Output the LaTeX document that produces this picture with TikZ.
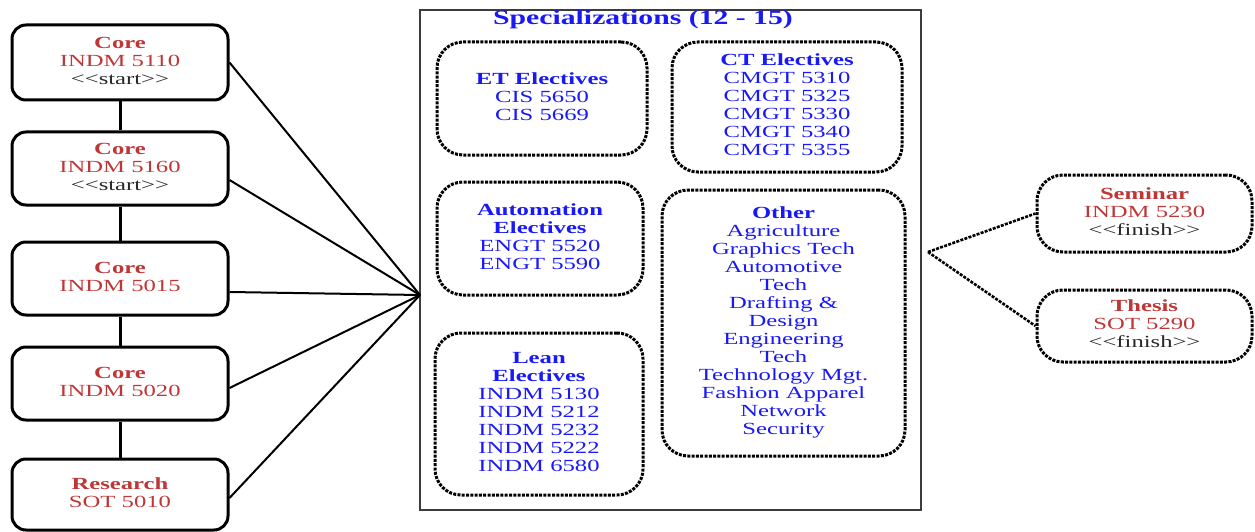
\documentclass[tikz,border=0pt]{standalone}
\usepackage{fontspec}
\setmainfont{Liberation Serif}
\usepackage{graphicx}
\definecolor{cred}{RGB}{190,55,55}
\definecolor{cblue}{RGB}{25,25,245}
\definecolor{cgray}{RGB}{40,40,40}
\definecolor{cframe}{RGB}{60,60,60}
\newcommand{\sx}[1]{\scalebox{1.45}[1]{#1}}
\newcommand{\tb}[1]{\sx{\begin{tabular}{@{}c@{}}#1\end{tabular}}}
\newcommand{\st}{\textcolor{cgray}{<{}<start>{}>}}
\newcommand{\fin}{\textcolor{cgray}{<{}<finish>{}>}}
\begin{document}
\begin{tikzpicture}[x=1pt,y=-1pt,
  every node/.style={font=\fontsize{17}{18}\selectfont, inner sep=0pt},
  corebox/.style={draw, line width=3pt, rounded corners=14pt, minimum width=216pt, text=cred},
  dotbox/.style={draw, line width=3pt, dash pattern=on 3pt off 1.3pt, rounded corners=26pt},
  elecbox/.style={dotbox, text=cblue},
  finbox/.style={dotbox, text=cred, minimum width=215pt},
  link/.style={line width=3pt},
  fanline/.style={line width=2pt},
  dotline/.style={line width=2.6pt, dash pattern=on 3pt off 1.3pt}]
\useasboundingbox (0,0) rectangle (1255,532);

% central frame
\node[draw=cframe, line width=1.6pt, minimum width=501pt, minimum height=500pt] (spec) at (670.5,260) {};
\node[text=cblue, font=\fontsize{20.5}{21}\selectfont\bfseries] (title) at (643,20) {\sx{Specializations (12 - 15)}};

% left core boxes
\node[corebox, minimum height=75pt] (c1) at (120,62.5) {\tb{\textbf{Core}\\INDM 5110\\\st}};
\node[corebox, minimum height=73pt] (c2) at (120,168.5) {\tb{\textbf{Core}\\INDM 5160\\\st}};
\node[corebox, minimum height=73pt] (c3) at (120,278.5) {\tb{\textbf{Core}\\INDM 5015}};
\node[corebox, minimum height=73pt] (c4) at (120,383.5) {\tb{\textbf{Core}\\INDM 5020}};
\node[corebox, minimum height=71pt] (c5) at (120,494.5) {\tb{\textbf{Research}\\SOT 5010}};

\draw[link] (c1.south) -- (c2.north);
\draw[link] (c2.south) -- (c3.north);
\draw[link] (c3.south) -- (c4.north);
\draw[link] (c4.south) -- (c5.north);

% fan into specializations
\coordinate (fan) at (420,295);
\draw[fanline] (c1.east) -- (fan);
\draw[fanline] ([yshift=-11.5pt]c2.east) -- (fan);
\draw[fanline] ([yshift=-13.5pt]c3.east) -- (fan);
\draw[fanline] ([yshift=-4.5pt]c4.east) -- (fan);
\draw[fanline] ([yshift=-3.5pt]c5.east) -- (fan);

% elective boxes
\node[elecbox, minimum width=210pt, minimum height=113pt] (et) at (542,98.5)
  {\tb{\textbf{ET Electives}\\CIS 5650\\CIS 5669}};
\node[elecbox, minimum width=230pt, minimum height=130pt] (ct) at (787,107)
  {\tb{\textbf{CT Electives}\\CMGT 5310\\CMGT 5325\\CMGT 5330\\CMGT 5340\\CMGT 5355}};
\node[elecbox, minimum width=206pt, minimum height=113pt] (auto) at (540,238.5)
  {\tb{\textbf{Automation}\\\textbf{Electives}\\ENGT 5520\\ENGT 5590}};
\node[elecbox, minimum width=208pt, minimum height=162pt] (lean) at (539,414)
  {\tb{\textbf{Lean}\\\textbf{Electives}\\INDM 5130\\INDM 5212\\INDM 5232\\INDM 5222\\INDM 6580}};
\node[elecbox, minimum width=243pt, minimum height=266pt] (other) at (783.5,323)
  {\tb{\textbf{Other}\\Agriculture\\Graphics Tech\\Automotive\\Tech\\Drafting \&\\Design\\Engineering\\Tech\\Technology Mgt.\\Fashion Apparel\\Network\\Security}};

% finish boxes
\node[finbox, minimum height=77pt] (sem) at (1144.5,213.5) {\tb{\textbf{Seminar}\\INDM 5230\\\fin}};
\node[finbox, minimum height=72pt] (thesis) at (1144.5,326) {\tb{\textbf{Thesis}\\SOT 5290\\\fin}};

\coordinate (fan2) at (928,252);
\draw[dotline] (fan2) -- (sem.west);
\draw[dotline] (fan2) -- (thesis.west);
\end{tikzpicture}
\end{document}
